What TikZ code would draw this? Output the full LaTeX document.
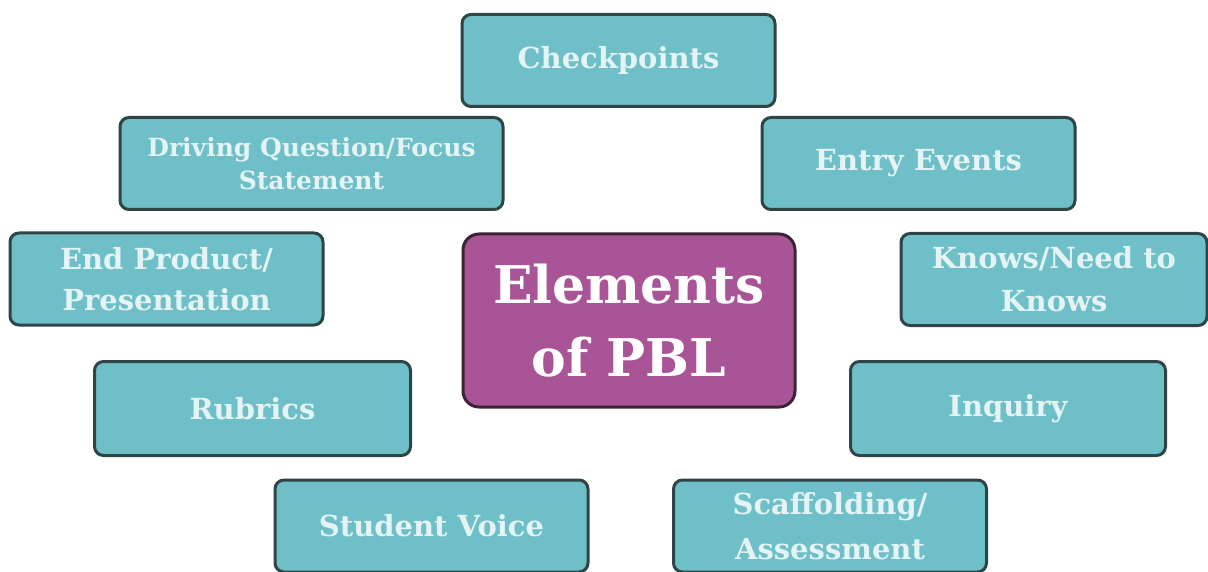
\documentclass[tikz,border=0pt]{standalone}
\usepackage{fontspec}
\setmainfont{DejaVu Serif}
\definecolor{tealfill}{HTML}{6FBFC8}
\definecolor{edge}{HTML}{2F4446}
\definecolor{pblfill}{HTML}{A85497}
\definecolor{pbledge}{HTML}{3A2436}
\definecolor{txt}{HTML}{E4F3F4}
\tikzset{
  item/.style={draw=edge, fill=tealfill, line width=3pt, rounded corners=9pt,
    text=txt, font=\bfseries\fontsize{29}{41}\selectfont, align=center,
    inner sep=0pt, minimum width=313pt, minimum height=92pt},
  center/.style={draw=pbledge, fill=pblfill, line width=3pt, rounded corners=16pt,
    text=white, font=\bfseries\fontsize{52}{73}\selectfont, align=center,
    inner sep=0pt, minimum width=332pt, minimum height=173pt}
}
\begin{document}
\begin{tikzpicture}[x=1pt,y=-1pt]
\useasboundingbox (0,0) rectangle (1208,572);
\node[item] (chk) at (618.5,60.5) {Checkpoints};
\node[item, minimum width=383pt, font=\bfseries\fontsize{25}{33}\selectfont] (drv) at (311.5,163.5) {Driving Question/Focus\\Statement};
\node[item] (ent) at (918.5,163.5) {Entry Events};
\node[item] (end) at (166.5,279) {End Product/\\Presentation};
\node[item, minimum width=306pt, font=\bfseries\fontsize{29}{43}\selectfont] (knw) at (1054,279.5) {Knows/Need to\\Knows};
\node[center] (pbl) at (629,320.5) {Elements\\of PBL};
\node[item, minimum width=316pt, minimum height=94pt] (rub) at (252.5,408.5) {Rubrics};
\node[item, minimum width=315pt, minimum height=94pt] (inq) at (1008,408.5) {Inquiry};
\node[item] (stu) at (431.5,526) {Student Voice};
\node[item, font=\bfseries\fontsize{29}{45}\selectfont] (sca) at (830,526) {Scaffolding/\\Assessment};
\end{tikzpicture}
\end{document}
